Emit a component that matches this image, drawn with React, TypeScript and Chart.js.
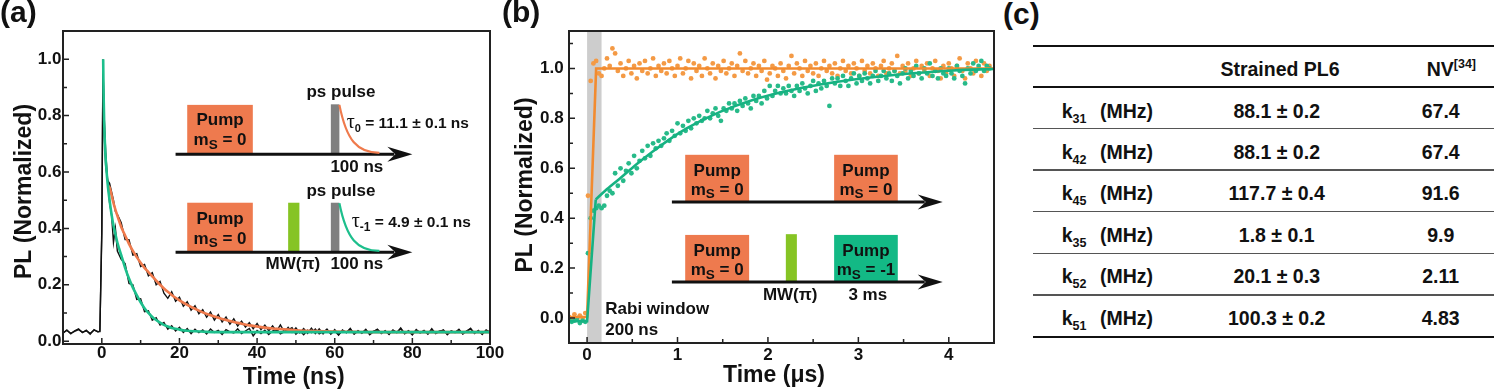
import React, { useEffect, useRef } from 'react';
import { Chart, registerables } from 'chart.js';

Chart.register(...registerables);

const SANS = '"Liberation Sans", Arial, Helvetica, sans-serif';
const SERIF = '"Liberation Serif", "DejaVu Serif", serif';
const INK = '#111111';

// ---------------- Panel (a) data ----------------
const timeA = [-10,-9,-8,-7,-6,-5,-4,-3,-2,-1,-0.5,0,0.3,0.6,1,1.5,2,2.5,3,3.5,4,
  5,6,7,8,9,10,11,12,13,14,15,16,17,18,19,20,21,22,23,24,25,26,27,28,29,30,31,32,33,34,35,36,37,38,39,40,
  41,42,43,44,45,46,47,48,49,50,51,52,53,54,55,56,57,58,59,60,61,62,63,64,65,66,67,68,69,70,
  71,72,73,74,75,76,77,78,79,80,81,82,83,84,85,86,87,88,89,90,91,92,93,94,95,96,97,98,99,100];

const fastDecayA = [0.028,0.040,0.026,0.037,0.044,0.030,0.039,0.025,0.041,0.033,
  0.036,0.40,1.0,0.74,0.62,0.57,0.49,0.45,0.35,0.40,0.32,
  0.29,0.275,0.205,0.20,0.148,0.15,0.105,0.108,0.074,0.083,0.057,0.066,0.043,0.055,0.036,0.049,0.031,0.045,0.027,0.042,
  0.030,0.040,0.026,0.043,0.031,0.038,0.024,0.041,0.033,0.029,0.044,0.027,0.036,0.045,0.019,0.038,
  0.027,0.039,0.024,0.036,0.044,0.026,0.033,0.040,0.048,0.025,
  0.037,0.023,0.039,0.030,0.043,0.026,0.034,0.041,0.027,0.036,
  0.021,0.040,0.030,0.045,0.025,0.037,0.028,0.042,0.023,0.034,
  0.043,0.027,0.037,0.024,0.040,0.030,0.047,0.026,0.035,0.022,
  0.041,0.029,0.038,0.025,0.044,0.027,0.034,0.040,0.023,0.037,
  0.030,0.042,0.025,0.035,0.046,0.027,0.038,0.024,0.040,0.031];

const slowDecayA = [0.030,0.038,0.028,0.035,0.041,0.032,0.037,0.028,0.039,0.034,
  0.034,0.38,0.98,0.80,0.67,0.57,0.56,0.53,0.50,0.46,0.45,
  0.42,0.36,0.36,0.305,0.31,0.265,0.272,0.232,0.243,0.2,0.212,0.17,0.152,0.175,0.142,0.156,0.124,0.14,0.11,0.126,
  0.097,0.112,0.085,0.103,0.075,0.094,0.068,0.086,0.06,0.079,0.054,0.071,0.05,0.066,0.044,0.063,
  0.041,0.057,0.037,0.054,0.035,0.058,0.033,0.049,0.031,0.047,0.029,0.045,0.028,0.046,0.027,0.044,0.026,0.043,0.025,0.041,
  0.024,0.038,0.032,0.042,0.027,0.035,0.030,0.040,0.026,0.036,
  0.040,0.029,0.035,0.026,0.038,0.032,0.044,0.028,0.037,0.025,
  0.039,0.031,0.036,0.027,0.041,0.029,0.036,0.038,0.025,0.035,
  0.032,0.040,0.027,0.037,0.043,0.029,0.036,0.026,0.038,0.033];

const orangeFitTimeA = [1.8,2,3,4,5,6,7,8,9,10,11,12,13,14,15,16,17,18,19,20,22,24,26,28,30,32,34,36,38,40,42,44,46,48,50,55,60,65,70,80,90,100];
const orangeFitA = [0.55,0.545,0.49,0.445,0.405,0.375,0.345,0.32,0.298,0.278,0.26,0.245,0.23,0.215,0.2,0.187,0.175,0.164,0.154,0.145,
  0.129,0.115,0.102,0.092,0.083,0.075,0.068,0.062,0.056,0.052,0.048,0.045,0.043,0.041,0.039,0.036,0.034,0.033,0.032,0.032,0.032,0.032];

const greenFitTimeA = [0.35,0.45,0.6,0.9,1.24,1.6,2,2.5,3,3.5,4,5,6,7,8,9,10,11,12,13,14,15,16,17,18,19,20,22,24,27,30,40,60,80,100];
const greenFitA = [1.0,0.88,0.78,0.67,0.6,0.545,0.5,0.45,0.41,0.38,0.35,0.305,0.26,0.222,0.19,0.163,0.138,0.117,0.1,0.086,0.075,0.066,
  0.058,0.052,0.047,0.044,0.041,0.037,0.035,0.033,0.032,0.032,0.032,0.032,0.032];

const ticksAX = [0, 20, 40, 60, 80, 100];
const ticksAY = [0, 0.2, 0.4, 0.6, 0.8, 1.0];
const minorAX = [10, 30, 50, 70, 90];
const minorAY = [0.1, 0.3, 0.5, 0.7, 0.9];

// ---------------- Panel (b) data ----------------
const timeB = [-0.2,-0.17,-0.14,-0.11,-0.08,-0.05,-0.02,0.01,0.04,0.07,
  0.1,0.13,0.16,0.19,0.22,0.25,0.28,0.31,0.34,0.37,
  0.4,0.43,0.46,0.49,0.52,0.55,0.58,0.61,0.64,0.67,
  0.7,0.73,0.76,0.79,0.82,0.85,0.88,0.91,0.94,0.97,
  1,1.03,1.06,1.09,1.12,1.15,1.18,1.21,1.24,1.27,
  1.3,1.33,1.36,1.39,1.42,1.45,1.48,1.51,1.54,1.57,
  1.6,1.63,1.66,1.69,1.72,1.75,1.78,1.81,1.84,1.87,
  1.9,1.93,1.96,1.99,2.02,2.05,2.08,2.11,2.14,2.17,
  2.2,2.23,2.26,2.29,2.32,2.35,2.38,2.41,2.44,2.47,
  2.5,2.53,2.56,2.59,2.62,2.65,2.68,2.71,2.74,2.77,
  2.8,2.83,2.86,2.89,2.92,2.95,2.98,3.01,3.04,3.07,
  3.1,3.13,3.16,3.19,3.22,3.25,3.28,3.31,3.34,3.37,
  3.4,3.43,3.46,3.49,3.52,3.55,3.58,3.61,3.64,3.67,
  3.7,3.73,3.76,3.79,3.82,3.85,3.88,3.91,3.94,3.97,
  4,4.03,4.06,4.09,4.12,4.15,4.18,4.21,4.24,4.27,
  4.3,4.33,4.36,4.39,4.42,4.45];

const orangeB = [0.005,-0.01,0.015,-0.005,0.01,0.0,0.02,0.49,0.95,1.02,
  1.03,0.98,0.97,1.00,1.04,1.01,1.08,1.06,0.99,1.02,
  0.97,1.00,1.03,0.98,1.01,0.96,1.02,0.99,1.03,0.98,
  1.00,1.04,0.97,1.01,0.99,1.02,0.98,1.03,1.00,0.97,
  1.01,1.04,0.98,1.00,1.03,0.96,1.02,0.99,1.01,0.97,
  1.04,1.00,0.98,1.02,0.96,1.01,0.99,1.03,0.98,1.00,
  1.02,0.97,1.01,1.06,0.99,1.03,0.98,1.00,1.02,0.97,
  1.01,0.99,1.03,0.955,0.98,1.01,1.00,0.97,1.02,0.99,
  0.96,1.01,1.05,0.98,1.02,1.00,0.97,1.03,0.99,1.01,
  0.98,1.02,0.97,1.00,1.03,0.99,1.01,0.98,1.02,0.97,
  1.00,1.03,0.99,1.01,0.98,1.02,1.00,0.97,1.03,0.99,
  1.01,0.98,1.02,1.00,0.97,1.01,1.03,0.98,1.00,1.02,
  0.99,1.05,0.98,1.01,0.99,1.02,0.97,1.00,1.03,0.98,
  1.01,0.99,1.02,0.97,1.00,1.03,0.99,0.96,1.01,0.98,
  1.02,1.00,0.97,1.01,1.04,0.99,0.96,1.02,1.00,0.98,
  1.03,1.00,0.97,1.02,0.99,1.01];

const greenB = [-0.005,-0.015,-0.01,0.0,-0.02,-0.01,-0.015,0.26,0.40,0.43,
  0.44,0.45,0.44,0.45,0.49,0.51,0.50,0.58,0.53,0.60,
  0.55,0.59,0.62,0.58,0.65,0.60,0.63,0.67,0.64,0.69,
  0.65,0.70,0.68,0.71,0.69,0.72,0.74,0.71,0.75,0.73,
  0.78,0.74,0.77,0.75,0.79,0.76,0.80,0.78,0.81,0.79,
  0.80,0.83,0.80,0.82,0.84,0.81,0.79,0.84,0.83,0.86,
  0.84,0.86,0.83,0.87,0.85,0.88,0.86,0.84,0.89,0.87,
  0.89,0.86,0.91,0.88,0.93,0.89,0.91,0.93,0.90,0.92,
  0.90,0.93,0.91,0.89,0.93,0.91,0.94,0.92,0.90,0.93,
  0.95,0.91,0.94,0.92,0.95,0.93,0.85,0.96,0.94,0.96,
  0.93,0.97,0.95,0.93,0.96,0.98,0.94,0.97,0.95,0.98,
  0.96,0.94,0.97,0.99,0.95,0.97,0.99,0.96,0.98,0.95,
  0.99,0.97,0.94,0.98,1.00,0.96,0.99,0.97,1.01,0.98,
  0.96,1.00,0.98,1.02,0.97,0.99,0.96,1.00,0.98,0.97,
  1.00,0.98,0.96,1.01,0.99,0.97,0.94,1.00,0.98,1.02,
  0.99,1.01,1.03,0.99,1.01,1.00];

const orangeFitTimeB = [-0.2, 0, 0.1, 4.5];
const orangeFitB = [0.004, 0.004, 1.0, 1.0];
const greenRiseTimeB = [-0.2, 0, 0.096];
const greenRiseB = [-0.013, -0.013, 0.475];
const greenFitTimeB = [0.096,0.2,0.36,0.547,0.73,0.916,1.1,1.47,1.84,2.21,2.58,2.95,3.32,3.68,4.05,4.5];
const greenFitB = [0.475,0.51,0.558,0.616,0.668,0.717,0.76,0.826,0.875,0.91,0.936,0.956,0.971,0.983,0.992,0.998];

const ticksBX = [0, 1, 2, 3, 4];
const ticksBY = [0, 0.2, 0.4, 0.6, 0.8, 1.0];
const minorBX = [0.5, 1.5, 2.5, 3.5];
const minorBY = [0.1, 0.3, 0.5, 0.7, 0.9, 1.1];
const rabiWindow = [0, 0.16];

// ---------------- Panel (c) data ----------------
const rateSubs = ['31', '42', '45', '35', '52', '51'];
const pl6Rates = ['88.1 ± 0.2', '88.1 ± 0.2', '117.7 ± 0.4', '1.8 ± 0.1', '20.1 ± 0.3', '100.3 ± 0.2'];
const nvRates = ['67.4', '67.4', '91.6', '9.9', '2.11', '4.83'];

// ---------------- styles ----------------
const PUMP = '#EE7A4E';
const TEAL = '#13B985';
const MWG = '#86C424';
const GREY = '#808080';
const ORANGE_A = '#EF7A4C';
const GREEN_A = '#1DBF8C';
const ORANGE_B = '#F28B2F';
const ORANGE_DOT = '#F49A45';
const GREEN_B = '#16B282';
const GREEN_DOT = '#27BA89';
const BAND = '#CDCDCD';

const zip = (xs: number[], ys: number[]) => xs.map((x, i) => ({ x, y: ys[i] }));

type Part = { t: string; size: number; dy?: number; weight?: string; family?: string };
function drawParts(ctx: CanvasRenderingContext2D, parts: Part[], x: number, baseline: number, align: 'left' | 'center') {
  const ws = parts.map(p => {
    ctx.font = `${p.weight ?? 'bold'} ${p.size}px ${p.family ?? SANS}`;
    return ctx.measureText(p.t).width;
  });
  const total = ws.reduce((a, b) => a + b, 0);
  let cx = align === 'center' ? x - total / 2 : x;
  ctx.textAlign = 'left';
  ctx.textBaseline = 'alphabetic';
  ctx.fillStyle = INK;
  parts.forEach((p, i) => {
    ctx.font = `${p.weight ?? 'bold'} ${p.size}px ${p.family ?? SANS}`;
    ctx.fillText(p.t, cx, baseline + (p.dy ?? 0));
    cx += ws[i];
  });
}
function label(ctx: CanvasRenderingContext2D, s: string, x: number, cy: number, align: 'left' | 'center' = 'center', size = 17) {
  drawParts(ctx, [{ t: s, size }], x, cy + 0.36 * size, align);
}
function msLabel(ctx: CanvasRenderingContext2D, x: number, cy: number, rest: string) {
  drawParts(ctx, [{ t: 'm', size: 17 }, { t: 'S', size: 13.5, dy: 3.5 }, { t: rest, size: 17 }], x, cy + 0.36 * 17, 'center');
}

function makeDecor(minorX: number[], minorY: number[], drawInset: (chart: any) => void, titles: any) {
  return {
    id: 'decor',
    beforeDatasetsDraw(chart: any) {
      if (titles.band) {
        const { ctx, chartArea, scales } = chart;
        const l = scales.x.getPixelForValue(titles.band[0]);
        const r = scales.x.getPixelForValue(titles.band[1]);
        ctx.save();
        ctx.fillStyle = BAND;
        ctx.fillRect(l, chartArea.top, r - l, chartArea.bottom - chartArea.top);
        ctx.restore();
      }
    },
    afterDatasetsDraw(chart: any) {
      const { ctx, chartArea: { left, right, top, bottom }, scales: { x, y } } = chart;
      ctx.save();
      drawInset(chart);
      ctx.strokeStyle = '#222';
      ctx.lineWidth = 1.5;
      ctx.beginPath();
      x.ticks.forEach((t: any) => { const p = x.getPixelForValue(t.value); ctx.moveTo(p, bottom); ctx.lineTo(p, bottom - 6); });
      minorX.forEach(v => { const p = x.getPixelForValue(v); ctx.moveTo(p, bottom); ctx.lineTo(p, bottom - 4); });
      y.ticks.forEach((t: any) => { const p = y.getPixelForValue(t.value); ctx.moveTo(left, p); ctx.lineTo(left + 6, p); });
      minorY.forEach(v => { const p = y.getPixelForValue(v); ctx.moveTo(left, p); ctx.lineTo(left + 4, p); });
      ctx.stroke();
      ctx.lineWidth = 2;
      ctx.strokeRect(left, top, right - left, bottom - top);
      ctx.fillStyle = INK;
      ctx.font = `bold 23px ${SANS}`;
      ctx.textAlign = 'center';
      ctx.textBaseline = 'alphabetic';
      ctx.fillText(titles.x, titles.xcx, titles.xbase);
      ctx.translate(titles.ybx, titles.ycy);
      ctx.rotate(-Math.PI / 2);
      ctx.fillText(titles.y, 0, 0);
      ctx.restore();
    },
  };
}

function box(ctx: CanvasRenderingContext2D, X: any, Y: any, x0: number, x1: number, yt: number, yb: number, color: string) {
  const l = X(x0), r = X(x1), t = Y(yt), b = Y(yb);
  ctx.fillStyle = color;
  ctx.fillRect(l, t, r - l, b - t);
}
function arrowLine(ctx: CanvasRenderingContext2D, X: any, Y: any, x0: number, tip: number, y: number) {
  const p0 = X(x0), pt = X(tip), py = Y(y);
  ctx.strokeStyle = INK;
  ctx.lineWidth = 3;
  ctx.beginPath();
  ctx.moveTo(p0, py);
  ctx.lineTo(pt - 18, py);
  ctx.stroke();
  ctx.fillStyle = INK;
  ctx.beginPath();
  ctx.moveTo(pt, py);
  ctx.lineTo(pt - 25, py - 7.5);
  ctx.lineTo(pt - 17, py);
  ctx.lineTo(pt - 25, py + 7.5);
  ctx.closePath();
  ctx.fill();
}
function decay(ctx: CanvasRenderingContext2D, X: any, Y: any, x0: number, y0: number, x1: number, y1: number, color: string) {
  const a = X(x0), b = Y(y0), c = X(x1), d = Y(y1);
  ctx.strokeStyle = color;
  ctx.lineWidth = 2.2;
  ctx.beginPath();
  ctx.moveTo(a, b);
  ctx.bezierCurveTo(a + (c - a) * 0.18, b + (d - b) * 0.75, a + (c - a) * 0.45, d, c, d);
  ctx.stroke();
}

function insetA(chart: any) {
  const { ctx, scales: { x, y } } = chart;
  const X = (v: number) => x.getPixelForValue(v);
  const Y = (v: number) => y.getPixelForValue(v);
  box(ctx, X, Y, 22.0, 38.9, 0.838, 0.663, PUMP);
  box(ctx, X, Y, 59.0, 61.2, 0.840, 0.663, GREY);
  arrowLine(ctx, X, Y, 19.0, 80.0, 0.663);
  decay(ctx, X, Y, 61.2, 0.838, 71.5, 0.668, ORANGE_A);
  label(ctx, 'Pump', X(30.45), Y(0.788));
  msLabel(ctx, X(30.45), Y(0.716), ' = 0');
  label(ctx, 'ps pulse', X(61.6), Y(0.887));
  label(ctx, '100 ns', X(65.7), Y(0.622));
  drawParts(ctx, [{ t: 'τ', size: 20, weight: 'normal', family: SERIF }, { t: '0', size: 11, dy: 4 }, { t: ' = 11.1 ± 0.1 ns', size: 15.5 }], X(63.1), Y(0.777) + 5.6, 'left');
  box(ctx, X, Y, 22.0, 38.9, 0.491, 0.315, PUMP);
  box(ctx, X, Y, 48.0, 50.9, 0.491, 0.315, MWG);
  box(ctx, X, Y, 59.0, 61.2, 0.491, 0.315, GREY);
  arrowLine(ctx, X, Y, 19.0, 80.0, 0.315);
  decay(ctx, X, Y, 61.2, 0.489, 71.5, 0.32, GREEN_A);
  label(ctx, 'Pump', X(30.45), Y(0.439));
  msLabel(ctx, X(30.45), Y(0.368), ' = 0');
  label(ctx, 'ps pulse', X(61.6), Y(0.536));
  label(ctx, '100 ns', X(65.7), Y(0.276));
  label(ctx, 'MW(π)', X(49.2), Y(0.276));
  drawParts(ctx, [{ t: 'τ', size: 20, weight: 'normal', family: SERIF }, { t: '-1', size: 12, dy: 4 }, { t: ' = 4.9 ± 0.1 ns', size: 15.5 }], X(64.4), Y(0.426) + 5.6, 'left');
}

function insetB(chart: any) {
  const { ctx, scales: { x, y } } = chart;
  const X = (v: number) => x.getPixelForValue(v);
  const Y = (v: number) => y.getPixelForValue(v);
  box(ctx, X, Y, 1.085, 1.792, 0.654, 0.465, PUMP);
  box(ctx, X, Y, 2.732, 3.436, 0.654, 0.465, PUMP);
  arrowLine(ctx, X, Y, 0.938, 3.933, 0.465);
  label(ctx, 'Pump', X(1.439), Y(0.594));
  msLabel(ctx, X(1.439), Y(0.518), ' = 0');
  label(ctx, 'Pump', X(3.084), Y(0.594));
  msLabel(ctx, X(3.084), Y(0.518), ' = 0');
  box(ctx, X, Y, 1.085, 1.792, 0.333, 0.144, PUMP);
  box(ctx, X, Y, 2.198, 2.320, 0.336, 0.144, MWG);
  box(ctx, X, Y, 2.732, 3.436, 0.333, 0.144, TEAL);
  arrowLine(ctx, X, Y, 0.938, 3.933, 0.144);
  label(ctx, 'Pump', X(1.439), Y(0.273));
  msLabel(ctx, X(1.439), Y(0.196), ' = 0');
  label(ctx, 'Pump', X(3.084), Y(0.273));
  msLabel(ctx, X(3.084), Y(0.196), ' = -1');
  label(ctx, 'MW(π)', X(2.246), Y(0.097));
  label(ctx, '3 ms', X(3.104), Y(0.097));
  label(ctx, 'Rabi window', X(0.201), Y(0.040), 'left');
  label(ctx, '200 ns', X(0.201), Y(-0.043), 'left');
}

function makeScales(o: any) {
  const tickFont = { family: SANS, size: 17, weight: 'bold' as const, lineHeight: 1 };
  return {
    x: {
      type: 'linear', min: o.xmin, max: o.xmax,
      grid: { display: false, drawTicks: false }, border: { display: false },
      ticks: { font: tickFont, color: INK, padding: o.xpad, maxRotation: 0, autoSkip: false, callback: (v: number) => String(v) },
      afterBuildTicks: (s: any) => { s.ticks = o.xt.map((v: number) => ({ value: v })); },
      afterFit: (s: any) => { s.height = o.xh; s.paddingLeft = 0; s.paddingRight = 0; },
    },
    y: {
      type: 'linear', min: o.ymin, max: o.ymax,
      grid: { display: false, drawTicks: false }, border: { display: false },
      ticks: { font: tickFont, color: INK, padding: o.ypad, autoSkip: false, callback: (v: number) => v.toFixed(1) },
      afterBuildTicks: (s: any) => { s.ticks = o.yt.map((v: number) => ({ value: v })); },
      afterFit: (s: any) => { s.width = o.yw; s.paddingTop = 0; s.paddingBottom = 0; },
    },
  };
}

export default function App() {
  const refA = useRef<HTMLCanvasElement>(null);
  const refB = useRef<HTMLCanvasElement>(null);

  useEffect(() => {
    const lineDs = (data: any, color: string, width: number, mono: boolean) => ({
      data, showLine: true, borderColor: color, borderWidth: width, pointRadius: 0,
      tension: 0, cubicInterpolationMode: mono ? 'monotone' : 'default', fill: false,
    });
    const chartA = new Chart(refA.current as HTMLCanvasElement, {
      type: 'scatter',
      data: {
        datasets: [
          lineDs(zip(greenFitTimeA, greenFitA), GREEN_A, 2.6, true),
          lineDs(zip(orangeFitTimeA, orangeFitA), ORANGE_A, 2.6, true),
          lineDs(zip(timeA, slowDecayA), INK, 1.4, false),
          lineDs(zip(timeA, fastDecayA), INK, 1.4, false),
        ] as any,
      },
      options: {
        responsive: false, animation: false, events: [],
        layout: { padding: { left: 0, top: 31, right: 22, bottom: 0 } },
        plugins: { legend: { display: false }, tooltip: { enabled: false } },
        scales: makeScales({ xmin: -10, xmax: 100, ymin: -0.01, ymax: 1.1, xt: ticksAX, yt: ticksAY, xh: 46, yw: 63, xpad: 1, ypad: 1.5 }) as any,
      },
      plugins: [makeDecor(minorAX, minorAY, insetA, { x: 'Time (ns)', xcx: 293.7, xbase: 383.5, y: 'PL (Normalized)', ybx: 30.5, ycy: 191.5 })],
    });

    const chartB = new Chart(refB.current as HTMLCanvasElement, {
      type: 'scatter',
      data: {
        datasets: [
          lineDs(zip(greenFitTimeB, greenFitB), GREEN_B, 2.6, true),
          lineDs(zip(greenRiseTimeB, greenRiseB), GREEN_B, 2.6, false),
          lineDs(zip(orangeFitTimeB, orangeFitB), ORANGE_B, 2.6, false),
          { data: zip(timeB, greenB), pointRadius: 2.4, pointBorderWidth: 0, pointBackgroundColor: GREEN_DOT, showLine: false },
          { data: zip(timeB, orangeB), pointRadius: 2.4, pointBorderWidth: 0, pointBackgroundColor: ORANGE_DOT, showLine: false },
        ] as any,
      },
      options: {
        responsive: false, animation: false, events: [],
        layout: { padding: { left: 0, top: 31, right: 6, bottom: 0 } },
        plugins: { legend: { display: false }, tooltip: { enabled: false } },
        scales: makeScales({ xmin: -0.2, xmax: 4.5, ymin: -0.1, ymax: 1.15, xt: ticksBX, yt: ticksBY, xh: 47, yw: 57, xpad: 3.5, ypad: 5.4 }) as any,
      },
      plugins: [makeDecor(minorBX, minorBY, insetB, { x: 'Time (μs)', xcx: 262, xbase: 381.7, y: 'PL (Normalized)', ybx: 20, ycy: 185, band: rabiWindow })],
    });
    return () => { chartA.destroy(); chartB.destroy(); };
  }, []);

  const text: React.CSSProperties = {
    position: 'absolute', fontFamily: SANS, fontWeight: 'bold', fontSize: 19.5, color: INK,
    whiteSpace: 'nowrap', height: 30, lineHeight: '30px',
  };
  const rowCenters = [111, 151.5, 193, 234.5, 276, 318];
  const rules = [
    { y: 46, h: 2.2, c: INK }, { y: 87.3, h: 2.2, c: INK },
    { y: 128.7, h: 1.2, c: '#555' }, { y: 170, h: 1.2, c: '#555' }, { y: 211.7, h: 1.2, c: '#555' },
    { y: 253.3, h: 1.2, c: '#555' }, { y: 295, h: 1.2, c: '#555' },
    { y: 336.7, h: 2.2, c: INK },
  ];
  const panelLabel: React.CSSProperties = {
    position: 'absolute', fontFamily: SANS, fontWeight: 'bold', fontSize: 30, lineHeight: '30px', color: INK,
  };

  return (
    <div style={{ position: 'absolute', left: 0, top: 0, width: 1494, height: 390, background: '#fff', overflow: 'hidden' }}>
      <canvas ref={refA} width={512} height={390} style={{ position: 'absolute', left: 0, top: 0, width: 512, height: 390 }} />
      <canvas ref={refB} width={488} height={390} style={{ position: 'absolute', left: 512, top: 0, width: 488, height: 390 }} />

      {rules.map((r, i) => (
        <div key={'r' + i} style={{ position: 'absolute', left: 1033, width: 461, top: r.y - r.h / 2, height: r.h, background: r.c }} />
      ))}
      <div style={{ ...text, left: 1180, width: 200, textAlign: 'center', top: 69.3 - 15 }}>Strained PL6</div>
      <div style={{ ...text, left: 1426.7, top: 69.3 - 15 }}>
        NV<span style={{ fontSize: 12.5, position: 'relative', top: -8 }}>[34]</span>
      </div>
      {rateSubs.map((s, i) => (
        <React.Fragment key={'row' + i}>
          <div style={{ ...text, left: 1061.7, top: rowCenters[i] - 15 }}>
            k<span style={{ fontSize: 12.5, position: 'relative', top: 5 }}>{s}</span>
          </div>
          <div style={{ ...text, left: 1100, top: rowCenters[i] - 15 }}>(MHz)</div>
          <div style={{ ...text, left: 1176.7, width: 200, textAlign: 'center', top: rowCenters[i] - 15 }}>{pl6Rates[i]}</div>
          <div style={{ ...text, left: 1340.7, width: 200, textAlign: 'center', top: rowCenters[i] - 15 }}>{nvRates[i]}</div>
        </React.Fragment>
      ))}

      <div style={{ ...panelLabel, left: 0, top: -3.4 }}>(a)</div>
      <div style={{ ...panelLabel, left: 502, top: -3.4 }}>(b)</div>
      <div style={{ ...panelLabel, left: 1003, top: -0.6 }}>(c)</div>
    </div>
  );
}
